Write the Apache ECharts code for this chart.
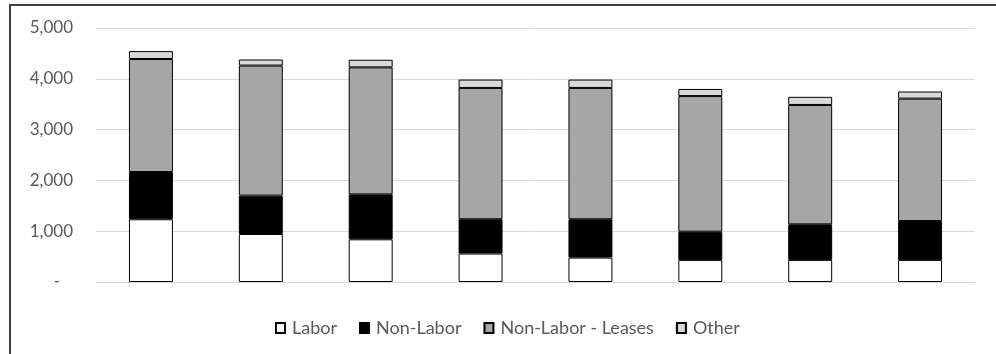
<!DOCTYPE html>
<html>
<head>
<meta charset="utf-8">
<script src="https://cdn.jsdelivr.net/npm/echarts@6/dist/echarts.min.js"></script>
<style>
  html, body { margin: 0; padding: 0; background: #fff; }
  #chart { width: 996px; height: 354px; }
</style>
</head>
<body>
<div id="chart"></div>
<script>
// Eight periods, no category labels shown on the axis
const categories = ['1', '2', '3', '4', '5', '6', '7', '8'];

// Stacked components (bottom to top)
const labor          = [1235, 945, 840, 560, 480, 435, 435, 435];
const nonLabor       = [930, 755, 885, 675, 755, 555, 700, 765];
const nonLaborLeases = [2225, 2560, 2500, 2585, 2585, 2670, 2350, 2410];
const other          = [155, 120, 150, 165, 165, 140, 160, 140];

const yTicks = { min: 0, max: 5000, interval: 1000 };

const FONT = 'Lato, "Open Sans", sans-serif';
const TEXT = '#595959';

function fmt(v) {
  if (v === 0) return '-   ';
  return String(v).replace(/\B(?=(\d{3})+(?!\d))/g, ',');
}

function stackSeries(name, data, color) {
  return {
    name: name,
    type: 'bar',
    stack: 'total',
    barWidth: '40%',
    data: data,
    itemStyle: { color: color, borderColor: '#000', borderWidth: 1 },
    emphasis: { disabled: true }
  };
}

const chart = echarts.init(document.getElementById('chart'), null, { renderer: 'canvas' });
chart.setOption({
  animation: false,
  backgroundColor: '#fff',
  graphic: [{
    type: 'rect',
    shape: { x: 10, y: 5, width: 1100, height: 500 },
    style: { fill: 'none', stroke: '#3f3f3f', lineWidth: 2 },
    silent: true
  }],
  grid: { left: 96, right: 21, top: 28, bottom: 72, containLabel: false },
  legend: {
    top: 314,
    left: 270,
    itemWidth: 9,
    itemHeight: 10,
    itemGap: 22,
    icon: 'rect',
    textStyle: { fontFamily: FONT, fontSize: 18, color: TEXT, padding: [0, 0, 0, 2] },
    data: ['Labor', 'Non-Labor', 'Non-Labor - Leases', 'Other']
  },
  xAxis: {
    type: 'category',
    data: categories,
    axisLine: { show: true, lineStyle: { color: '#d9d9d9', width: 1 } },
    axisTick: { show: false },
    axisLabel: { show: false }
  },
  yAxis: {
    type: 'value',
    min: yTicks.min,
    max: yTicks.max,
    interval: yTicks.interval,
    axisLine: { show: false },
    axisTick: { show: false },
    axisLabel: { fontFamily: FONT, fontSize: 17, color: TEXT, margin: 23, formatter: fmt },
    splitLine: { lineStyle: { color: '#d9d9d9', width: 1 } }
  },
  series: [
    stackSeries('Labor', labor, '#ffffff'),
    stackSeries('Non-Labor', nonLabor, '#000000'),
    stackSeries('Non-Labor - Leases', nonLaborLeases, '#a6a6a6'),
    stackSeries('Other', other, '#d9d9d9')
  ]
});
</script>
</body>
</html>
